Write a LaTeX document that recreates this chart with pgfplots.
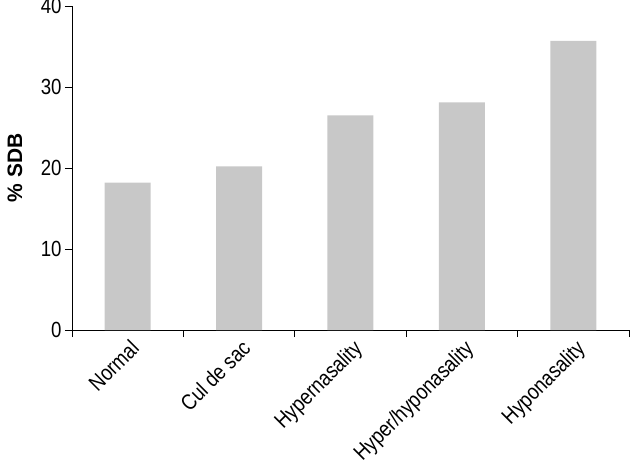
\documentclass[border=0pt]{standalone}
\usepackage{fontspec}
\setmainfont{Liberation Sans}
\newfontfamily\condfont{Liberation Sans}[FakeStretch=0.85]
\usepackage{pgfplots}
\pgfplotsset{compat=1.18}
\definecolor{bargray}{RGB}{200,200,200}

\begin{document}
\begin{tikzpicture}
\begin{axis}[%
scale only axis,
width=557bp,
height=324bp,
xmin=-0.5, xmax=4.5,
ymin=0, ymax=40,
axis lines*=left,
axis line style={line width=0.8bp},
tick align=outside,
major tick length=7bp,
minor tick length=7bp,
tick style={line width=0.8bp, black},
ytick={0,10,20,30,40},
xtick={0,1,2,3,4},
xticklabels={Normal,Cul de sac,Hypernasality,Hyper/hyponasality,Hyponasality},
minor xtick={-0.5,0.5,1.5,2.5,3.5,4.5},
every major x tick/.style={draw=none},
/pgf/number format/assume math mode=true,
tick label style={font=\fontsize{22}{22}\selectfont\condfont},
x tick label style={rotate=45, anchor=north east, inner sep=2bp, xshift=2bp},
ylabel={\% SDB},
every axis y label/.style={at={(axis description cs:0,0.5)}, xshift=-57bp, rotate=90, anchor=center, font=\fontsize{21}{21}\selectfont\bfseries},
]
\addplot[ybar, bar width=46bp, fill=bargray, draw=none]
  coordinates {(0,18.2) (1,20.2) (2,26.5) (3,28.1) (4,35.7)};
\coordinate (O) at (rel axis cs:0,0);
\end{axis}
\pgfresetboundingbox
\path (O) ++(-72bp,-130bp) rectangle ++(630bp,460bp);
\end{tikzpicture}
\end{document}
